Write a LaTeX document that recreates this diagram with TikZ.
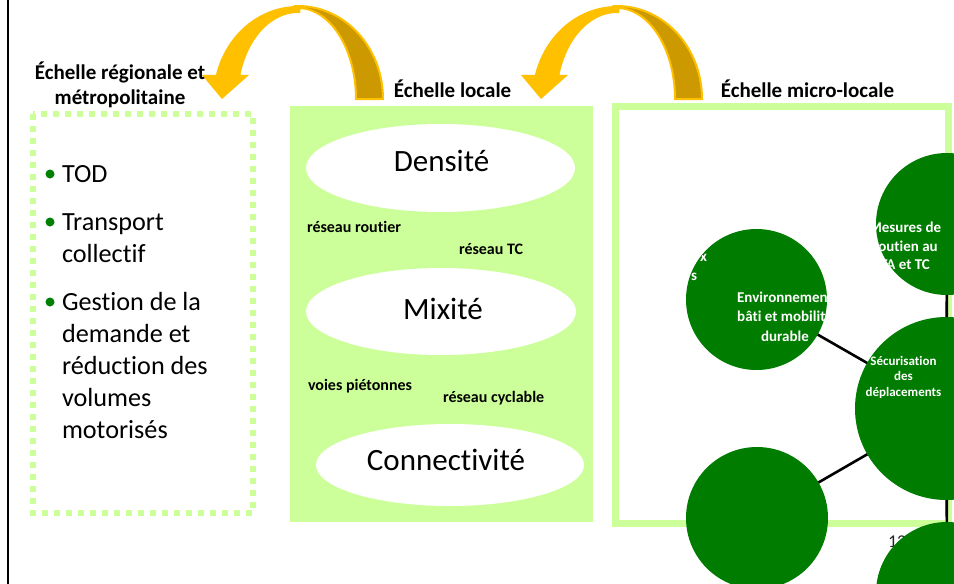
\documentclass[tikz,border=0pt]{standalone}
\usepackage{fontspec}
\setmainfont[Ligatures=NoCommon]{Carlito}
\usetikzlibrary{shapes.geometric}
\definecolor{lgreen}{RGB}{204,255,153}
\definecolor{dgreen}{RGB}{0,125,0}
\definecolor{bulgreen}{RGB}{0,128,0}
\definecolor{arrbright}{RGB}{255,192,0}
\definecolor{arrdark}{RGB}{204,153,0}
\begin{document}
\begin{tikzpicture}[x=1pt,y=-1pt,
  every node/.style={inner sep=0pt, outer sep=0pt},
  hdr/.style={font=\fontsize{21}{25}\selectfont\bfseries, anchor=base},
  bul/.style={font=\fontsize{26.2}{32}\selectfont, anchor=base west},
  elltext/.style={font=\fontsize{31}{36}\selectfont, anchor=base},
  small/.style={font=\fontsize{16}{19}\selectfont\bfseries, anchor=base west},
  ell/.style={ellipse, fill=white, draw=none},
  disc/.style={circle, fill=dgreen, draw=none},
  ctext/.style={font=\fontsize{15}{19}\selectfont\bfseries, text=white, anchor=base},
  stext/.style={font=\fontsize{13}{16}\selectfont\bfseries, text=white, anchor=base},
  spoke/.style={draw=black, line width=2.6pt},
  bdot/.style={circle, fill=bulgreen, draw=none, minimum size=9pt}
]
\useasboundingbox (0,0) rectangle (954,584);
\clip (0,0) rectangle (954,584);
\fill[white] (0,0) rectangle (954,584);
% left frame line
\draw[line width=2.7] (8,-2) -- (8,590);

% curved arrows
\foreach \s in {0,319}{
\begin{scope}[xshift=\s]
\filldraw[fill=arrdark, draw=arrbright, line width=2]
  plot[domain=92:0, samples=40] ({298+85*cos(\x)},{99-93*sin(\x)})
  -- plot[domain=0:92, samples=40] ({298+58*cos(\x)},{99-91*sin(\x)}) -- cycle;
\fill[arrbright] (202,75)
  -- plot[domain=165:88, samples=50] ({298+85*cos(\x)},{99-93*sin(\x)})
  -- plot[domain=88:163.6, samples=50] ({298+60*cos(\x)},{99-86*sin(\x)})
  -- (249,75) -- (222,99) -- cycle;
\end{scope}
}

% boxes
\draw[lgreen, line width=6, dash pattern=on 6pt off 6pt] (33,114) rectangle (253,513);
\fill[lgreen] (290,106) rectangle (593,522);
\draw[lgreen, line width=7] (615.5,106.5) rectangle (948,523);

% headers
\node[hdr] (h1a) at (120,79) {Échelle régionale et};
\node[hdr] (h1b) at (120,104) {métropolitaine};
\node[hdr] (h2) at (452.5,97) {Échelle locale};
\node[hdr] (h3) at (807.5,97) {Échelle micro-locale};

% bullets
\node[bdot] (d1) at (50,174) {};
\node[bdot] (d2) at (50,222) {};
\node[bdot] (d3) at (50,302) {};
\node[bul] (b1) at (62,182) {TOD};
\node[bul] (b2a) at (62,230) {Transport};
\node[bul] (b2b) at (62,262) {collectif};
\node[bul] (b3a) at (62,310) {Gestion de la};
\node[bul] (b3b) at (62,342) {demande et};
\node[bul] (b3c) at (62,374) {réduction des};
\node[bul] (b3d) at (62,406) {volumes};
\node[bul] (b3e) at (62,438) {motorisés};

% ellipses
\node[ell, minimum width=269, minimum height=88] (e1) at (440.5,168) {};
\node[ell, minimum width=270, minimum height=87] (e2) at (441,311.5) {};
\node[ell, minimum width=268, minimum height=82] (e3) at (450,465) {};
\node[elltext] (tdens) at (441.5,171) {Densité};
\node[elltext] (tmix) at (443,319) {Mixité};
\node[elltext] (tcon) at (446,470) {Connectivité};

% small labels
\node[small] (lrr) at (307,232) {réseau routier};
\node[small] (ltc) at (459,254) {réseau TC};
\node[small] (lvp) at (308,390) {voies piétonnes};
\node[small] (lrc) at (443,402) {réseau cyclable};

% page number
\node[font=\fontsize{18}{20}\selectfont, text=black!85, anchor=base west] (pnum) at (888,547) {12};

% circles
\node[disc, minimum size=141] (c1) at (756.5,299.5) {};
\node[disc, minimum size=142] (c2) at (947,224) {};
\node[disc, minimum size=183] (c3) at (946.5,408.5) {};
\node[disc, minimum size=142] (c4) at (757,518) {};
\node[disc, minimum size=142] (c5) at (947,593) {};

\draw[spoke] (c1) -- (c3);
\draw[spoke] (c4) -- (c3);
\draw[spoke] (c2) -- (c3);
\draw[spoke] (c3) -- (c5);

% circle texts
\begin{scope}
\clip (c1.center) circle[radius=70.5pt];
\node[ctext] (t1a) at (785,302) {Environnement};
\node[ctext] (t1b) at (785,321.5) {bâti et mobilité};
\node[ctext] (t1c) at (785,341) {durable};
\node[ctext, anchor=base east] (f1) at (707,261) {x};
\node[ctext, anchor=base east] (f2) at (697,280) {s};
\end{scope}
\begin{scope}
\clip (c2.center) circle[radius=71pt];
\node[ctext] (t2a) at (905,232) {Mesures de};
\node[ctext] (t2b) at (905,251) {soutien au};
\node[ctext] (t2c) at (905,269.5) {TA et TC};
\end{scope}
\begin{scope}
\clip (c3.center) circle[radius=91.5pt];
\node[stext] (t3a) at (903.5,365) {Sécurisation};
\node[stext] (t3b) at (903.5,380.5) {des};
\node[stext] (t3c) at (903.5,396) {déplacements};
\end{scope}
\end{tikzpicture}
\end{document}
